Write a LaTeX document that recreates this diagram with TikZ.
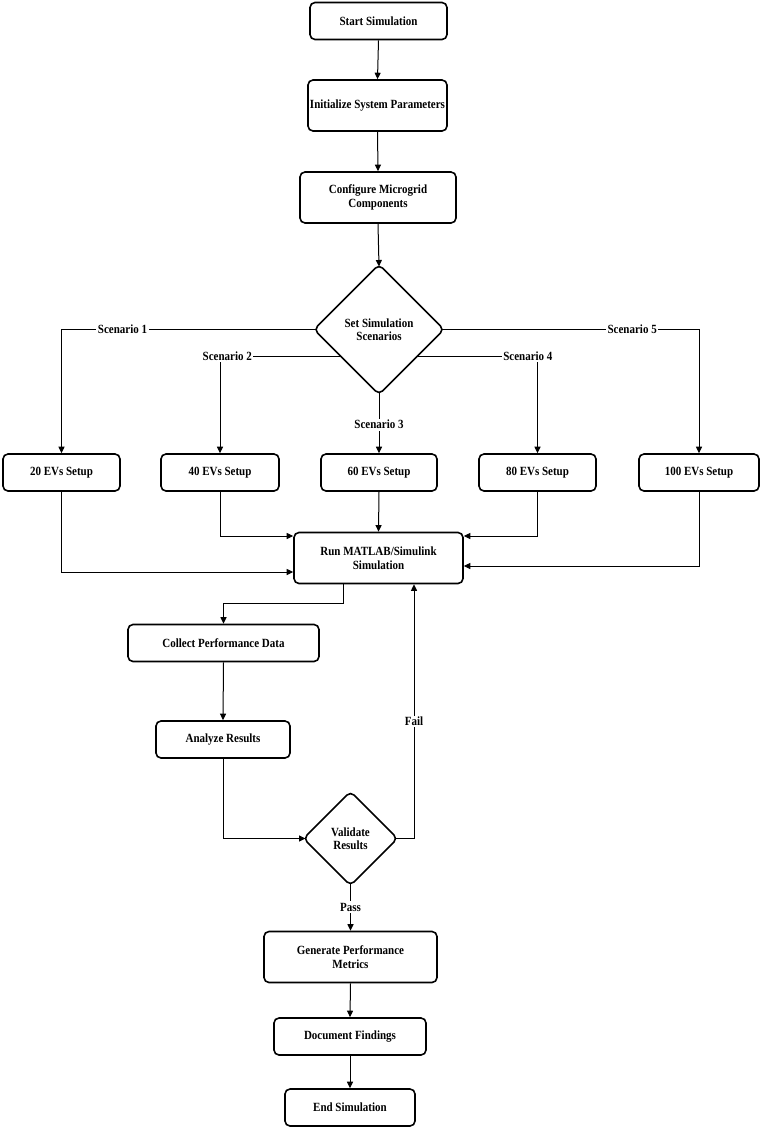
\documentclass[tikz,border=0pt]{standalone}
\usepackage{fontspec}
\setmainfont{Liberation Serif}[FakeStretch=0.88]
\usetikzlibrary{arrows.meta,shapes.geometric}
\begin{document}
\begin{tikzpicture}[x=1pt,y=-1pt,
  txt/.style={font=\fontsize{12.5}{13.5}\selectfont\bfseries},
  box/.style={draw, line width=1.6pt, rounded corners=5pt, align=center, txt, inner sep=0pt},
  dia/.style={draw, diamond, shape aspect=1, line width=1.6pt, rounded corners=5pt, align=center, txt, inner sep=0pt, outer sep=0pt},
  arr/.style={-{Triangle[length=6.5pt,width=6pt]}, line width=1pt},
  ln/.style={line width=1pt},
  lbl/.style={fill=white, inner sep=1.5pt, txt}]
\useasboundingbox[fill=white] (0,0) rectangle (764,1128);

\node[box, minimum width=137pt, minimum height=37pt] (start) at (378.5,21) {Start Simulation};
\node[box, minimum width=139pt, minimum height=51pt] (init) at (377.5,105.5) {Initialize System Parameters};
\node[box, minimum width=156pt, minimum height=51pt] (config) at (378,197.5) {Configure Microgrid\\Components};
\node[dia, minimum size=130pt] (scen) at (379,329.5) {Set Simulation\\Scenarios};

\node[box, minimum width=117pt, minimum height=37pt] (ev20) at (61.5,472.5) {20 EVs Setup};
\node[box, minimum width=118pt, minimum height=37pt] (ev40) at (220,472.5) {40 EVs Setup};
\node[box, minimum width=116pt, minimum height=37pt] (ev60) at (379,472.5) {60 EVs Setup};
\node[box, minimum width=117pt, minimum height=37pt] (ev80) at (537.5,472.5) {80 EVs Setup};
\node[box, minimum width=120pt, minimum height=37pt] (ev100) at (699,472.5) {100 EVs Setup};

\node[box, minimum width=169pt, minimum height=51pt] (run) at (378.5,558) {Run MATLAB/Simulink\\Simulation};
\node[box, minimum width=191pt, minimum height=37pt] (collect) at (223.5,643) {Collect Performance Data};
\node[box, minimum width=134pt, minimum height=37pt] (analyze) at (223,739.5) {Analyze Results};
\node[dia, minimum size=94pt] (valid) at (350.5,838.5) {Validate\\Results};
\node[box, minimum width=173pt, minimum height=51pt] (gen) at (350.5,957) {Generate Performance\\Metrics};
\node[box, minimum width=152pt, minimum height=37pt] (doc) at (350,1036.5) {Document Findings};
\node[box, minimum width=130pt, minimum height=37pt] (end) at (350,1107.5) {End Simulation};

\coordinate (s2) at (341,356);
\coordinate (s4) at (417,356);

\draw[arr] (start.south) -- (init.north);
\draw[arr] (init.south) -- (config.north);
\draw[arr] (config.south) -- ([yshift=-2pt]scen.north);

\draw[arr] ([xshift=2pt]scen.west) -| node[lbl,pos=0.38]{Scenario 1} (ev20.north);
\draw[arr] (s2) -| node[lbl,pos=0.47]{Scenario 2} (ev40.north);
\draw[arr] ([yshift=2pt]scen.south) -- node[lbl,pos=0.53]{Scenario 3} (ev60.north);
\draw[arr] (s4) -| node[lbl,pos=0.46]{Scenario 4} (ev80.north);
\draw[arr] ([xshift=-2pt]scen.east) -| node[lbl,pos=0.37]{Scenario 5} (ev100.north);

\draw[arr] (ev20.south) |- ([yshift=-14pt]run.west);
\draw[arr] (ev40.south) |- ([yshift=22pt]run.west);
\draw[arr] (ev60.south) -- (run.north);
\draw[arr] (ev80.south) |- ([yshift=22pt]run.east);
\draw[arr] (ev100.south) |- ([yshift=-8pt]run.east);

\draw[arr] ([xshift=-35.5pt]run.south) -- ++(0,19) -| (collect.north);
\draw[arr] (collect.south) -- (analyze.north);
\draw[arr] (analyze.south) |- ([xshift=2pt]valid.west);
\draw[arr] ([xshift=-2pt]valid.east) -| node[lbl,pos=0.73]{Fail} ([xshift=35.5pt]run.south);
\draw[arr] ([yshift=2pt]valid.south) -- node[lbl,pos=0.5]{Pass} (gen.north);
\draw[arr] (gen.south) -- (doc.north);
\draw[arr] (doc.south) -- (end.north);
\end{tikzpicture}
\end{document}
